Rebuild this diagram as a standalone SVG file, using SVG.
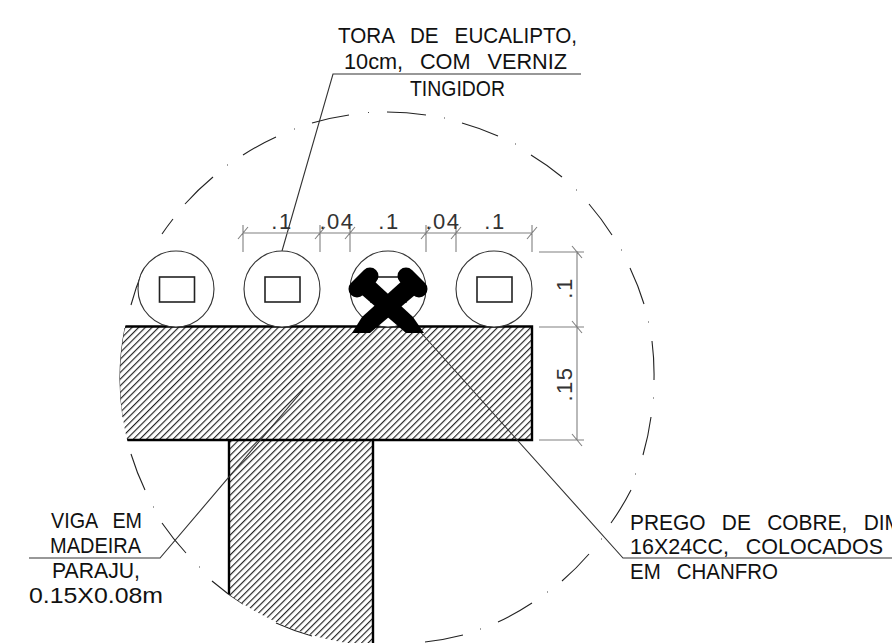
<svg xmlns="http://www.w3.org/2000/svg" width="892" height="643" viewBox="0 0 892 643">
<style>
text{font-family:"Liberation Sans",Arial,sans-serif;font-size:22px;fill:#111;word-spacing:11px}
.dim{fill:#333;word-spacing:0;letter-spacing:1.500px}
.arc{fill:none;stroke:#222;stroke-width:1.1}
.dot{fill:none;stroke:#444;stroke-width:1.2}
.lead{fill:none;stroke:#333;stroke-width:1.1}
.dl{fill:none;stroke:#808080;stroke-width:1.1}
.log{fill:#fff;stroke:#333;stroke-width:1.1}
.core{fill:#fff;stroke:#222;stroke-width:1.6}
.edge{fill:none;stroke:#000;stroke-width:2.4}
</style>
<defs>
<pattern id="h" width="4.7" height="4.7" patternUnits="userSpaceOnUse" patternTransform="rotate(45)"><rect width="4.7" height="4.7" fill="#fff"/><rect y="0" width="1.150" height="4.7" fill="#222"/></pattern>
<clipPath id="c"><circle cx="387" cy="379" r="267"/></clipPath>
</defs>
<rect width="892" height="643" fill="#fff"/>
<g id="break-circle">
<path class="arc" d="M185 204A267 267 0 0 1 213 177M243 155A267 267 0 0 1 276 137M312 123A267 267 0 0 1 349 115M387 112A267 267 0 0 1 426 115M462 123A267 267 0 0 1 498 136M531 155A267 267 0 0 1 562 177M589 204A267 267 0 0 1 612 235M630 268A267 267 0 0 1 644 304M652 341A267 267 0 0 1 654 380M651 417A267 267 0 0 1 643 455M631 490A267 267 0 0 1 611 523M589 554A267 267 0 0 1 562 581M532 603A267 267 0 0 1 498 622M463 635A267 267 0 0 1 425 642M312 636A267 267 0 0 1 276 623M243 604A267 267 0 0 1 212 581M186 553A267 267 0 0 1 162 523M145 490A267 267 0 0 1 131 454M123 417A267 267 0 0 1 120 379A267 267 0 0 1 125 328M131 305A267 267 0 0 1 143 270M162 234A267 267 0 0 1 173 219"/>
<path class="dot" d="M227 165h1M294 129h1M368 112.500h1M444 118h1M515 144h1M576 190h1M621 250h1M648 322h1M653 398h1M635 474h1M601 539h1M547 592h1M480 629h1M199 567h1M153 507h1M137 286h1"/>
</g>
<g id="beam">
<g clip-path="url(#c)">
<rect x="100" y="326" width="432" height="114" fill="url(#h)"/>
<rect x="229" y="440" width="144" height="210" fill="url(#h)"/>
<path class="edge" d="M100 326.500H532V440H100M229 440V650M373 440V650"/>
</g>
</g>
<g id="connectors">
<path class="lead" d="M581 74H333L282 251"/>
<path class="lead" d="M29 558H160L303 390"/>
<path class="lead" d="M892 558H623L415 326"/>
</g>
<g id="log-1"><circle class="log" cx="176" cy="289" r="38"/><rect class="core" x="159.500" y="277" width="35" height="25"/></g>
<g id="log-2"><circle class="log" cx="282" cy="289" r="38"/><rect class="core" x="265" y="277" width="35" height="25"/></g>
<g id="log-3"><circle class="log" cx="388" cy="289" r="38"/><rect class="core" x="371" y="277" width="35" height="25"/>
<g id="nails">
<path d="M370 276L357 289M406 276L419 289" stroke="#000" stroke-width="17" stroke-linecap="round" fill="none"/>
<path d="M373 280L413 317L424 333H406L362 295Z" fill="#000"/>
<path d="M403 280L415 295L370 333H352L362 317Z" fill="#000"/>
</g></g>
<g id="log-4"><circle class="log" cx="494" cy="289" r="38"/><rect class="core" x="477" y="277" width="35" height="25"/></g>
<g id="dim-horizontal">
<path class="dl" d="M243 233H532M243 225V252M320 225V252M350 225V252M426 225V252M456 225V252M532 225V252M238 239L248 227M315 239L325 227M345 239L355 227M421 239L431 227M451 239L461 227M527 239L537 227"/>
<text class="dim" x="282" y="229" text-anchor="middle">.1</text>
<text class="dim" x="337" y="229" text-anchor="middle">.04</text>
<text class="dim" x="389" y="229" text-anchor="middle">.1</text>
<text class="dim" x="443" y="229" text-anchor="middle">.04</text>
<text class="dim" x="495" y="229" text-anchor="middle">.1</text>
</g>
<g id="dim-vertical">
<path class="dl" d="M577 251V440M539 252H584M539 327H584M539 440H584M572 246L582 258M572 321L582 333M572 434L582 446"/>
<text class="dim" transform="translate(572 288) rotate(-90)" text-anchor="middle">.1</text>
<text class="dim" transform="translate(572 384) rotate(-90)" text-anchor="middle">.15</text>
</g>
<g id="label-tora">
<text x="338" y="43" textLength="239" lengthAdjust="spacingAndGlyphs">TORA DE EUCALIPTO,</text>
<text x="344" y="69" textLength="223" lengthAdjust="spacingAndGlyphs">10cm, COM VERNIZ</text>
<text x="410" y="96" textLength="95" lengthAdjust="spacingAndGlyphs">TINGIDOR</text>
</g>
<g id="label-viga">
<text x="51" y="528" textLength="91" lengthAdjust="spacingAndGlyphs">VIGA EM</text>
<text x="50" y="553" textLength="91" lengthAdjust="spacingAndGlyphs">MADEIRA</text>
<text x="52" y="578" textLength="88" lengthAdjust="spacingAndGlyphs">PARAJU,</text>
<text x="29" y="603" textLength="134" lengthAdjust="spacingAndGlyphs">0.15X0.08m</text>
</g>
<g id="label-prego">
<text x="630" y="530" textLength="272" lengthAdjust="spacingAndGlyphs">PREGO DE COBRE, DIM</text>
<text x="630" y="554" textLength="253" lengthAdjust="spacingAndGlyphs">16X24CC, COLOCADOS</text>
<text x="630" y="579" textLength="148" lengthAdjust="spacingAndGlyphs">EM CHANFRO</text>
</g>
</svg>
